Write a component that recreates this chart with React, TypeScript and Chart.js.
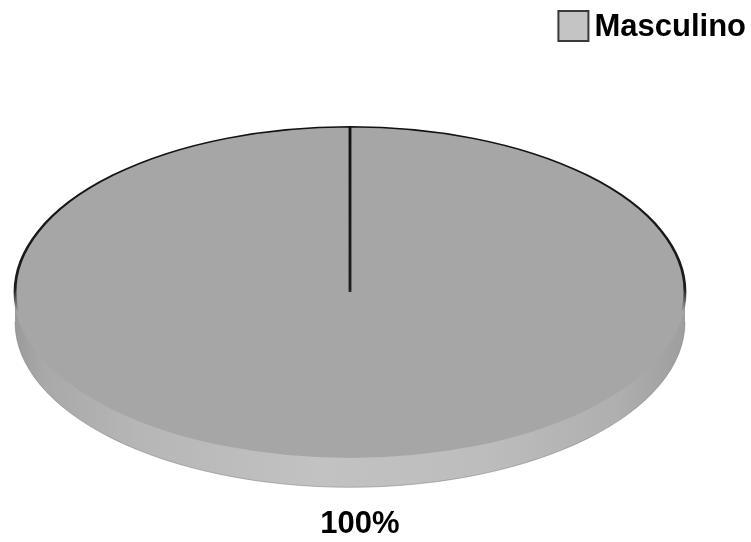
import { useEffect, useRef } from 'react';
import { Chart, registerables } from 'chart.js';

Chart.register(...registerables);

// Sex distribution of the sample
const categories = ['Masculino'];
const shares = [100];

const FACE = '#a6a6a6';
const SWATCH = '#c4c4c4';
const FONT = "'Liberation Sans', Arial, Helvetica, sans-serif";

// Draws the pie as a tilted disc: a shaded rim below, then the face stretched into an ellipse.
const tiltedPie = {
  id: 'tiltedPie',
  beforeDatasetsDraw(chart: any, _args: any, opts: any) {
    const arc = chart.getDatasetMeta(0).data[0];
    chart.$tilted = false;
    if (!arc) return;
    const { x, y, outerRadius } = arc.getProps(['x', 'y', 'outerRadius'], true);
    const area = chart.chartArea;
    const sx = (area.right - area.left) / 2 / outerRadius;
    const rx = outerRadius * sx;
    const ry = outerRadius;
    const d = opts.depth;
    const ctx = chart.ctx;

    ctx.save();
    const g = ctx.createLinearGradient(x - rx, 0, x + rx, 0);
    g.addColorStop(0, '#9a9a9a');
    g.addColorStop(0.04, '#a8a8a8');
    g.addColorStop(0.18, '#b6b6b6');
    g.addColorStop(0.45, '#c2c2c2');
    g.addColorStop(0.7, '#bdbdbd');
    g.addColorStop(0.9, '#afafaf');
    g.addColorStop(1, '#9e9e9e');
    ctx.beginPath();
    ctx.ellipse(x, y, rx, ry, 0, 0, Math.PI);
    ctx.lineTo(x - rx, y + d);
    ctx.ellipse(x, y + d, rx, ry, 0, Math.PI, 0, true);
    ctx.closePath();
    ctx.fillStyle = g;
    ctx.fill();
    ctx.beginPath();
    ctx.ellipse(x, y + d, rx, ry, 0, Math.PI, 0, true);
    ctx.strokeStyle = 'rgba(120,120,120,0.5)';
    ctx.lineWidth = 1;
    ctx.stroke();
    ctx.restore();

    ctx.save();
    ctx.translate(x, y);
    ctx.scale(sx, 1);
    ctx.translate(-x, -y);
    chart.$tilted = true;
  },
  afterDatasetsDraw(chart: any) {
    if (chart.$tilted) chart.ctx.restore();
    chart.$tilted = false;
  },
  afterDraw(chart: any, _args: any, opts: any) {
    const ctx = chart.ctx;
    const arc = chart.getDatasetMeta(0).data[0];
    const values: number[] = chart.data.datasets[0].data;
    const total = values.reduce((a, b) => a + b, 0);
    ctx.save();
    ctx.fillStyle = '#000';
    ctx.font = `bold ${opts.fontSize}px ${FONT}`;
    ctx.textBaseline = 'middle';

    // percentage under the disc
    if (arc) {
      const { x, y, outerRadius } = arc.getProps(['x', 'y', 'outerRadius'], true);
      ctx.textAlign = 'center';
      const pct = Math.round((values[0] / total) * 100);
      ctx.fillText(`${pct}%`, x + opts.labelShift, y + outerRadius + opts.depth + opts.labelGap);
    }

    // legend, top right
    const labels: string[] = chart.data.labels;
    const box = opts.box;
    let top = opts.legendTop;
    labels.forEach((label) => {
      const w = ctx.measureText(label).width;
      const textX = chart.width - opts.legendRight - w;
      const boxX = textX - opts.legendGap - box;
      ctx.fillStyle = SWATCH;
      ctx.fillRect(boxX, top, box, box);
      ctx.strokeStyle = '#3a3a3a';
      ctx.lineWidth = 2;
      ctx.strokeRect(boxX, top, box, box);
      ctx.fillStyle = '#000';
      ctx.textAlign = 'left';
      ctx.fillText(label, textX, top + box / 2 + 1);
      top += box + 8;
    });
    ctx.restore();
  },
};

export default function App() {
  const ref = useRef<HTMLCanvasElement>(null);

  useEffect(() => {
    if (!ref.current) return;
    const chart = new Chart(ref.current, {
      type: 'pie',
      data: {
        labels: categories,
        datasets: [
          {
            data: shares,
            backgroundColor: FACE,
            borderWidth: 1.4,
            clip: false,
            borderColor: (c: any) => {
              const a = c.chart.chartArea;
              if (!a) return '#1a1a1a';
              const g = c.chart.ctx.createLinearGradient(0, a.top, 0, a.bottom);
              g.addColorStop(0, '#111111');
              g.addColorStop(0.49, '#1c1c1c');
              g.addColorStop(0.56, FACE);
              g.addColorStop(1, FACE);
              return g;
            },
          } as any,
        ],
      },
      options: {
        responsive: false,
        animation: false,
        events: [],
        layout: { padding: { left: 15, right: 66, top: 126, bottom: 84 } },
        plugins: {
          legend: { display: false },
          tooltip: { enabled: false },
          tiltedPie: {
            depth: 30,
            fontSize: 31,
            labelShift: 10,
            labelGap: 37,
            box: 30,
            legendTop: 11,
            legendRight: 5,
            legendGap: 6,
          },
        } as any,
      },
      plugins: [tiltedPie],
    });
    return () => chart.destroy();
  }, []);

  return (
    <div style={{ position: 'absolute', left: 0, top: 0, width: 751, height: 542, background: '#fff' }}>
      <canvas ref={ref} width={751} height={542} />
    </div>
  );
}
